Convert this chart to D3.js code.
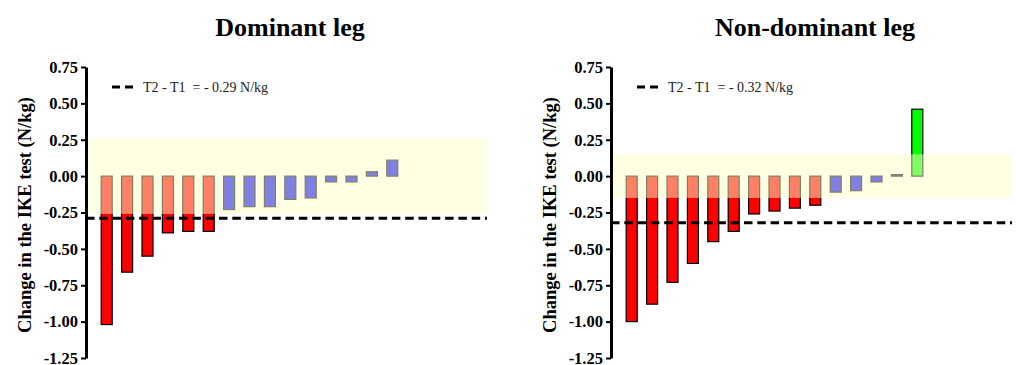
<!DOCTYPE html>
<html>
<head>
<meta charset="utf-8">
<script src="https://cdn.jsdelivr.net/npm/d3@7"></script>
<style>
  body { margin: 0; background: #fff; }
  svg { display: block; font-family: "Liberation Serif", "Times New Roman", serif; }
</style>
</head>
<body>
<svg id="chart" width="1016" height="365"></svg>
<script>
// participants, sorted by change
var participants = [1, 2, 3, 4, 5, 6, 7, 8, 9, 10, 11, 12, 13, 14, 15];
var dominantValues = [-1.02, -0.66, -0.55, -0.39, -0.38, -0.38, -0.23, -0.21, -0.21, -0.16, -0.15, -0.04, -0.04, 0.03, 0.11];
var nonDominantValues = [-1.00, -0.88, -0.73, -0.60, -0.45, -0.38, -0.26, -0.24, -0.22, -0.20, -0.11, -0.10, -0.04, 0.01, 0.46];
var panelTitles = ["Dominant leg", "Non-dominant leg"];
var meanChange = [-0.29, -0.32];
var meanLabels = ["T2 - T1  = - 0.29 N/kg", "T2 - T1  = - 0.32 N/kg"];
var bandLimits = [0.26, 0.15];   // half width of the yellow zone
var yTicks = [0.75, 0.50, 0.25, 0.00, -0.25, -0.50, -0.75, -1.00, -1.25];
var yTickLabels = ["0.75", "0.50", "0.25", "0.00", "-0.25", "-0.50", "-0.75", "-1.00", "-1.25"];
var yTitle = "Change in the IKE test (N/kg)";

var svg = d3.select("#chart");

var y = d3.scaleLinear().domain([-1.25, 0.75]).range([358, 67]);

function drawPanel(axisX, values, title, mean, meanLabel, band) {
    var g = svg.append("g");
    var PLOT_W = 401;

    var x = d3.scaleBand()
        .domain(participants)
        .range([axisX + 10.5, axisX + 10.5 + participants.length * 20.4])
        .paddingInner(0.46)
        .paddingOuter(0.23);

    function barColor(v) {
        if (v > band) return "#00ff00";
        if (v < -band) return "#ff0000";
        return "#0000ff";
    }

    g.selectAll(".bar")
        .data(values)
        .enter()
        .append("rect")
        .attr("class", "bar")
        .attr("x", function (d, i) { return x(participants[i]); })
        .attr("width", x.bandwidth())
        .attr("y", function (d) { return y(Math.max(0, d)); })
        .attr("height", function (d) { return Math.max(1, Math.abs(y(d) - y(0))); })
        .style("fill", barColor)
        .style("stroke", "#000")
        .style("stroke-width", 1.2);

    // yellow zone, drawn over the bars
    g.append("rect")
        .attr("x", axisX)
        .attr("width", PLOT_W)
        .attr("y", y(band))
        .attr("height", y(-band) - y(band))
        .style("fill", "rgb(255,255,200)")
        .style("opacity", 0.5);

    // mean change line
    g.append("line")
        .attr("x1", axisX)
        .attr("x2", axisX + PLOT_W)
        .attr("y1", y(mean))
        .attr("y2", y(mean))
        .style("stroke", "#000")
        .style("stroke-width", 3)
        .style("stroke-dasharray", "8.5,4.8");

    var axis = d3.axisLeft(y)
        .tickValues(yTicks)
        .tickFormat(function (d, i) { return yTickLabels[i]; })
        .tickSize(5)
        .tickSizeOuter(0)
        .tickPadding(3);

    var ag = g.append("g")
        .attr("transform", "translate(" + axisX + ",0)")
        .call(axis);
    ag.select(".domain").style("stroke-width", 3);
    ag.selectAll(".tick line").style("stroke-width", 2);
    ag.selectAll(".tick text")
        .style("font-family", "Liberation Serif")
        .style("font-weight", "bold")
        .style("font-size", "16.5px")
        .style("fill", "#000");

    // y title
    g.append("text")
        .attr("transform", "translate(" + (axisX - 61) + "," + 215 + ") rotate(-90)")
        .attr("text-anchor", "middle")
        .attr("dominant-baseline", "central")
        .style("font-weight", "bold")
        .style("font-size", "18.5px")
        .text(yTitle);

    // panel title
    g.append("text")
        .attr("x", axisX + 204)
        .attr("y", 36)
        .attr("text-anchor", "middle")
        .style("font-weight", "bold")
        .style("font-size", "26px")
        .text(title);

    // legend
    g.append("line")
        .attr("x1", axisX + 26)
        .attr("x2", axisX + 47)
        .attr("y1", 87)
        .attr("y2", 87)
        .style("stroke", "#000")
        .style("stroke-width", 3)
        .style("stroke-dasharray", "8,5");
    g.append("text")
        .attr("x", axisX + 57)
        .attr("y", 92)
        .attr("xml:space", "preserve")
        .style("white-space", "pre")
        .style("font-size", "14px")
        .style("fill", "#222")
        .text(meanLabel);
}

drawPanel(86, dominantValues, panelTitles[0], meanChange[0], meanLabels[0], bandLimits[0]);
drawPanel(611, nonDominantValues, panelTitles[1], meanChange[1], meanLabels[1], bandLimits[1]);
</script>
</body>
</html>
